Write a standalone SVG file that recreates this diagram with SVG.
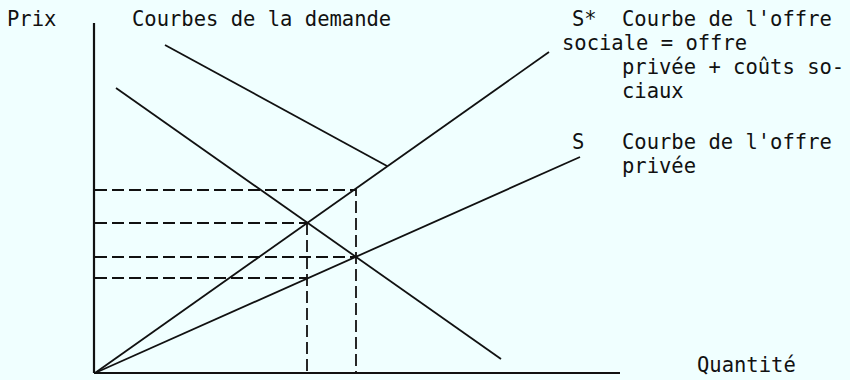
<svg xmlns="http://www.w3.org/2000/svg" width="850" height="380" viewBox="0 0 850 380">
<style>
.t{font-family:"DejaVu Sans Mono","Liberation Mono",monospace;font-size:20.5px;fill:#111;white-space:pre}
.ln{stroke:#111;stroke-width:1.8;fill:none}
.ax{stroke:#111;stroke-width:2.2;fill:none}
.d{stroke:#111;stroke-width:1.8;fill:none;stroke-dasharray:12 5}
</style>
<rect width="850" height="380" fill="#F0FFFF"/>
<g id="axes">
<line class="ax" x1="94" y1="23" x2="94" y2="373"/>
<line class="ax" x1="94" y1="373" x2="620" y2="373"/>
</g>
<g id="connectors">
<g id="guides">
<path class="d" d="M95 190 H356 V373"/>
<path class="d" d="M95 223 H306"/>
<path class="d" d="M307 223 V373"/>
<path class="d" d="M95 257 H356"/>
<path class="d" d="M95 278 H307"/>
</g>
<g id="curves">
<line id="sstar" class="ln" x1="95" y1="373" x2="549" y2="52"/>
<line id="s" class="ln" x1="95" y1="373" x2="580" y2="157"/>
<line id="d1" class="ln" x1="116" y1="88" x2="501" y2="359"/>
<line id="d2" class="ln" x1="165" y1="45" x2="387" y2="166"/>
</g>
</g>
<g id="label-prix"><text class="t" x="7" y="26">Prix</text></g>
<g id="label-demande"><text class="t" x="132" y="26">Courbes de la demande</text></g>
<g id="label-sstar">
<text class="t" x="572" y="26">S*</text>
<text class="t" x="622" y="26">Courbe de l'offre</text>
<text class="t" x="562" y="50">sociale = offre</text>
<text class="t" x="622" y="74">privée + coûts so-</text>
<text class="t" x="622" y="98">ciaux</text>
</g>
<g id="label-s">
<text class="t" x="572" y="149">S</text>
<text class="t" x="622" y="149">Courbe de l'offre</text>
<text class="t" x="622" y="173">privée</text>
</g>
<g id="label-quantite"><text class="t" x="697" y="372">Quantité</text></g>
</svg>
